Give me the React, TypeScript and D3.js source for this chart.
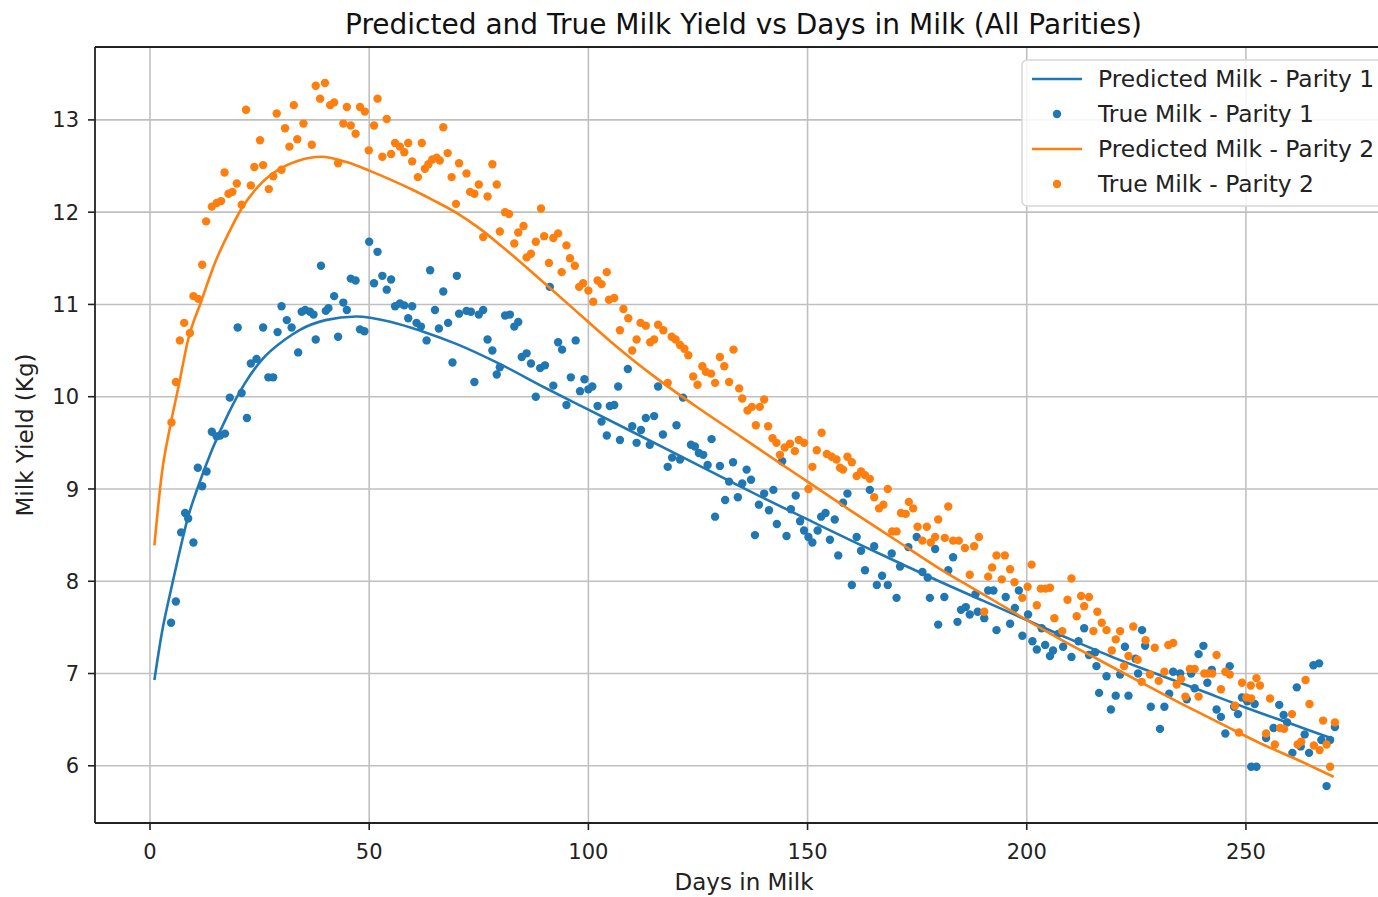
import React from "react";
import * as d3 from "d3";

const W = 1378;
const H = 897;

const titleText = "Predicted and True Milk Yield vs Days in Milk (All Parities)";
const xLabel = "Days in Milk";
const yLabel = "Milk Yield (Kg)";
const xTicks = [0, 50, 100, 150, 200, 250];
const yTicks = [6, 7, 8, 9, 10, 11, 12, 13];
const legendLabels = [
  "Predicted Milk - Parity 1",
  "True Milk - Parity 1",
  "Predicted Milk - Parity 2",
  "True Milk - Parity 2",
];

// Predicted curves [day, kg]
const predParity1: [number, number][] = [
  [1, 6.93], [2.7, 7.44], [4.6, 7.87], [6.5, 8.27], [8.7, 8.7], [11, 9.03], [14.1, 9.42],
  [17.9, 9.82], [21.7, 10.15], [25.5, 10.4], [30.8, 10.62], [34, 10.72], [40, 10.83],
  [47, 10.87], [55, 10.81], [62, 10.71], [70, 10.57], [80, 10.35], [90, 10.1], [100, 9.86],
  [110, 9.62], [120, 9.38], [130, 9.14], [140, 8.9], [150, 8.67], [160, 8.44], [170, 8.22],
  [180, 8.0], [190, 7.79], [200, 7.58], [210, 7.37], [220, 7.17], [230, 6.99], [240, 6.81],
  [250, 6.63], [260, 6.46], [270, 6.29],
];

const predParity2: [number, number][] = [
  [1, 8.39], [2.7, 9.17], [4.6, 9.68], [6.5, 10.11], [8.7, 10.62], [11.8, 11.05], [14.8, 11.45],
  [17.9, 11.77], [20.9, 12.04], [24.7, 12.28], [29.3, 12.46], [34, 12.56], [39, 12.6],
  [45, 12.54], [50, 12.45], [55, 12.35], [60, 12.24], [65, 12.12], [70, 11.99], [75, 11.83],
  [80, 11.64], [90, 11.23], [100, 10.81], [107, 10.52], [115, 10.22], [125, 9.88], [135, 9.56],
  [144, 9.27], [150, 9.08], [160, 8.76], [170, 8.45], [180, 8.14], [190, 7.86], [200, 7.58],
  [210, 7.31], [216, 7.16], [225, 6.93], [235, 6.68], [245, 6.44], [253, 6.25], [262, 6.06],
  [270, 5.88],
];

// True milk observations [day, kg]
const trueParity1: [number, number][] = [
  [4.8, 7.55], [5.9, 7.78], [7.1, 8.53], [8.0, 8.74], [8.7, 8.68], [9.9, 8.42], [10.9, 9.23],
  [11.9, 9.03], [12.9, 9.19], [14.1, 9.62], [15.2, 9.57], [16.0, 9.58], [17.1, 9.6], [18.2, 9.99],
  [20.0, 10.75], [20.9, 10.04], [22.1, 9.77], [23.0, 10.36], [24.3, 10.41], [25.8, 10.75],
  [27.0, 10.21], [28.1, 10.21], [29.1, 10.7], [30.0, 10.98], [31.2, 10.83], [32.3, 10.75],
  [33.8, 10.48], [34.6, 10.92], [35.4, 10.94], [36.5, 10.92], [37.3, 10.89], [37.8, 10.62],
  [39.0, 11.42], [40.1, 10.93], [40.7, 10.96], [42.0, 11.09], [42.9, 10.65], [44.1, 11.02],
  [44.9, 10.94], [45.8, 11.28], [46.9, 11.26], [47.9, 10.73], [48.9, 10.71], [50.0, 11.68],
  [51.1, 11.23], [51.9, 11.57], [53.0, 11.31], [54.0, 11.16], [55.0, 11.27], [55.9, 10.98],
  [57.0, 11.01], [58.0, 10.99], [58.9, 10.85], [59.8, 10.98], [60.8, 10.8], [61.8, 10.76],
  [63.1, 10.61], [63.9, 11.37], [65.0, 10.94], [65.9, 10.74], [66.9, 11.14], [68.0, 10.8],
  [69.0, 10.37], [70.0, 11.31], [70.5, 10.9], [72.2, 10.93], [73.2, 10.92], [74.0, 10.16],
  [75.0, 10.89], [76.0, 10.94], [77.0, 10.62], [78.1, 10.5], [79.1, 10.24], [79.8, 10.32],
  [81.0, 10.88], [82.1, 10.89], [83.1, 10.76], [84.0, 10.81], [84.8, 10.43], [85.9, 10.47],
  [86.9, 10.36], [88.0, 10.0], [89.0, 10.31], [90.1, 10.34], [91.2, 11.19], [92.0, 10.12],
  [93.1, 10.59], [94.0, 10.51], [95.0, 9.91], [96.0, 10.21], [97.1, 10.61], [98.1, 10.06],
  [99.1, 10.19], [100.0, 10.08], [100.9, 10.11], [102.1, 9.9], [103.0, 9.73], [104.2, 9.58],
  [104.9, 9.9], [105.9, 9.91], [106.8, 10.11], [107.2, 9.53], [109.0, 10.3], [110.0, 9.68],
  [111.0, 9.5], [112.0, 9.64], [113.1, 9.77], [114.0, 9.48], [115.0, 9.79], [115.9, 10.11],
  [117.0, 9.59], [118.1, 9.24], [119.1, 9.34], [120.1, 9.69], [120.9, 9.32], [121.6, 9.99],
  [123.4, 9.48], [124.3, 9.46], [125.2, 9.39], [126.2, 9.37], [127.2, 9.26], [128.1, 9.54],
  [128.9, 8.7], [130.0, 9.25], [131.2, 8.88], [132.1, 9.08], [133.0, 9.29], [134.1, 8.91],
  [135.1, 9.06], [136.1, 9.21], [137.1, 9.1], [138.0, 8.5], [138.9, 8.83], [140.1, 8.95],
  [141.2, 8.77], [142.2, 8.99], [143.0, 8.62], [144.2, 9.3], [145.2, 8.49], [146.2, 8.78],
  [147.3, 8.93], [148.3, 8.65], [149.2, 8.55], [150.2, 8.48], [151.1, 8.42], [152.3, 8.55],
  [153.1, 8.7], [154.1, 8.74], [155.1, 8.45], [156.2, 8.67], [157.0, 8.28], [158.1, 8.85],
  [159.1, 8.95], [160.1, 7.96], [161.2, 8.48], [162.2, 8.33], [163.1, 8.12], [164.2, 8.99],
  [165.2, 8.38], [165.8, 7.96], [167.0, 8.06], [168.3, 7.96], [169.2, 8.3], [170.3, 7.82],
  [171.1, 8.16], [173.0, 8.37], [174.9, 8.48], [176.2, 8.1], [177.4, 8.04], [177.9, 7.82],
  [179.1, 8.35], [179.8, 7.53], [181.2, 7.83], [182.1, 8.12], [183.2, 8.26], [184.2, 7.56],
  [185.0, 7.69], [186.1, 7.72], [187.0, 7.64], [188.3, 7.86], [188.8, 7.67], [190.3, 7.6],
  [191.2, 7.9], [192.4, 7.9], [193.1, 7.47], [195.2, 7.83], [196.2, 7.54], [197.3, 7.71],
  [198.2, 7.9], [199.0, 7.41], [200.3, 7.64], [201.3, 7.35], [202.3, 7.26], [203.4, 7.49],
  [204.2, 7.31], [205.3, 7.19], [206.0, 7.25], [207.2, 7.43], [208.3, 7.29], [210.2, 7.18],
  [211.8, 7.35], [213.1, 7.49], [214.2, 7.2], [215.6, 7.23], [215.9, 7.08], [216.5, 6.79],
  [218.2, 6.97], [219.2, 6.61], [220.3, 6.76], [221.3, 6.99], [222.4, 7.29], [223.2, 6.76],
  [224.8, 7.16], [225.4, 7.0], [226.3, 7.47], [227.0, 7.3], [228.3, 6.64], [230.4, 6.4],
  [231.4, 6.64], [232.5, 6.78], [233.4, 7.02], [235.0, 7.0], [236.5, 6.72], [237.5, 7.0],
  [238.3, 6.84], [239.2, 7.21], [240.3, 7.3], [241.2, 6.9], [242.2, 7.04], [243.3, 6.61],
  [244.3, 6.53], [245.3, 6.35], [246.3, 7.08], [247.3, 6.64], [248.2, 6.56], [249.1, 6.74],
  [250.3, 6.7], [251.2, 5.99], [252.0, 6.67], [252.4, 5.99], [254.6, 6.3], [256.3, 6.41],
  [257.6, 6.66], [258.6, 6.55], [259.4, 6.47], [260.6, 6.14], [261.6, 6.85], [262.5, 6.21],
  [263.4, 6.34], [264.4, 6.14], [265.4, 7.09], [266.7, 7.11], [267.2, 6.28], [268.4, 5.78],
  [269.2, 6.28], [270.3, 6.42],
];

const trueParity2: [number, number][] = [
  [4.9, 9.72], [5.9, 10.16], [6.8, 10.61], [7.8, 10.8], [9.1, 10.69], [9.9, 11.09], [11.0, 11.06],
  [11.9, 11.43], [12.8, 11.9], [14.1, 12.06], [15.2, 12.1], [16.2, 12.12], [17.0, 12.43],
  [17.9, 12.2], [18.8, 12.22], [19.8, 12.31], [20.9, 12.08], [21.9, 13.11], [23.0, 12.29],
  [23.8, 12.49], [25.1, 12.78], [25.8, 12.51], [27.1, 12.25], [28.1, 12.39], [28.9, 13.07],
  [30.0, 12.46], [30.8, 12.91], [31.8, 12.71], [32.8, 13.16], [33.6, 12.79], [35.0, 12.96],
  [36.9, 12.73], [37.8, 13.37], [38.8, 13.23], [39.9, 13.4], [41.1, 13.16], [42.0, 13.19],
  [42.9, 12.53], [44.1, 12.96], [44.9, 13.14], [45.8, 12.94], [46.9, 12.85], [47.9, 13.14],
  [49.0, 13.09], [49.9, 12.67], [51.1, 12.94], [51.9, 13.23], [53.0, 12.6], [54.0, 13.01],
  [55.0, 12.63], [55.9, 12.75], [57.0, 12.71], [58.0, 12.65], [58.9, 12.75], [59.8, 12.55],
  [61.1, 12.38], [62.0, 12.75], [62.7, 12.47], [63.5, 12.52], [64.4, 12.57], [65.4, 12.59],
  [66.1, 12.56], [66.9, 12.92], [67.9, 12.64], [68.8, 12.38], [69.8, 12.09], [70.5, 12.53],
  [72.2, 12.42], [73.0, 12.22], [74.0, 12.2], [75.0, 12.3], [76.0, 11.73], [77.0, 12.17],
  [78.1, 12.52], [79.1, 12.3], [79.8, 11.79], [81.0, 12.0], [81.9, 11.98], [83.1, 11.66],
  [84.0, 11.78], [85.2, 11.85], [85.9, 11.51], [86.9, 11.55], [88.0, 11.68], [89.2, 12.04],
  [89.9, 11.74], [91.0, 11.45], [92.0, 11.72], [93.1, 11.77], [93.9, 11.35], [95.0, 11.64],
  [95.8, 11.5], [96.9, 11.42], [97.9, 11.19], [98.8, 11.23], [100.0, 11.15], [101.1, 11.03],
  [102.1, 11.26], [103.0, 11.22], [104.2, 11.35], [104.7, 11.05], [105.9, 11.07], [107.2, 10.72],
  [108.0, 10.95], [109.1, 10.85], [110.0, 10.5], [111.0, 10.62], [111.9, 10.8], [113.1, 10.77],
  [114.1, 10.59], [115.0, 10.62], [115.9, 10.78], [117.1, 10.72], [118.1, 10.15], [119.0, 10.65],
  [119.9, 10.62], [120.9, 10.56], [121.9, 10.52], [122.8, 10.45], [123.9, 10.22], [124.9, 10.13],
  [126.0, 10.33], [126.8, 10.27], [128.0, 10.25], [128.9, 10.15], [130.0, 10.43], [131.0, 10.33],
  [132.1, 10.16], [133.1, 10.51], [134.4, 10.09], [135.1, 9.98], [136.3, 9.85], [137.3, 9.89],
  [138.2, 9.69], [139.1, 9.89], [140.1, 9.97], [141.0, 9.68], [142.0, 9.55], [142.9, 9.5],
  [143.7, 9.37], [144.8, 9.45], [146.0, 9.49], [147.1, 9.41], [148.0, 9.53], [149.2, 9.5],
  [150.2, 9.0], [151.1, 9.24], [152.1, 9.42], [153.2, 9.61], [154.4, 9.38], [155.5, 9.35],
  [156.6, 9.32], [157.4, 9.23], [158.1, 9.21], [159.1, 9.35], [160.1, 9.29], [161.2, 9.14],
  [162.2, 9.19], [163.1, 9.15], [164.2, 9.11], [165.2, 8.91], [166.3, 8.79], [167.3, 8.83],
  [168.3, 9.0], [169.3, 8.54], [170.3, 8.54], [171.3, 8.74], [172.4, 8.73], [173.1, 8.86],
  [174.1, 8.79], [175.1, 8.59], [176.2, 8.44], [177.2, 8.59], [178.1, 8.42], [179.1, 8.48],
  [179.8, 8.67], [181.3, 8.47], [182.1, 8.81], [183.2, 8.44], [184.5, 8.44], [185.9, 8.36],
  [187.0, 8.07], [188.0, 8.38], [189.1, 8.48], [190.3, 7.67], [191.2, 8.05], [192.1, 8.15],
  [193.1, 8.28], [194.3, 8.02], [195.0, 8.28], [196.2, 8.13], [197.2, 7.99], [199.0, 7.82],
  [200.2, 7.94], [201.1, 8.18], [202.3, 7.74], [203.2, 7.92], [204.3, 7.92], [205.3, 7.93],
  [206.3, 7.6], [208.1, 7.46], [209.3, 7.8], [210.2, 8.03], [211.4, 7.62], [212.4, 7.84],
  [213.1, 7.73], [214.2, 7.83], [215.2, 7.46], [216.1, 7.67], [217.1, 7.55], [218.2, 7.47],
  [219.4, 7.25], [220.3, 7.37], [221.3, 7.46], [222.2, 7.08], [223.2, 7.19], [224.3, 7.51],
  [225.3, 7.15], [226.2, 6.91], [227.1, 7.36], [228.1, 6.99], [229.2, 7.28], [230.1, 6.92],
  [231.4, 7.02], [232.3, 7.31], [233.4, 7.33], [234.2, 6.88], [235.2, 6.94], [236.2, 6.75],
  [237.2, 7.05], [238.3, 7.05], [239.2, 6.75], [240.5, 7.0], [241.4, 7.0], [242.3, 7.0],
  [243.3, 7.2], [244.3, 6.83], [245.3, 7.02], [246.3, 6.99], [247.5, 6.65], [248.4, 6.36],
  [249.1, 6.9], [250.1, 6.74], [251.1, 6.87], [251.2, 6.73], [252.4, 6.95], [253.2, 6.87],
  [254.6, 6.35], [255.5, 6.73], [256.6, 6.23], [257.8, 6.41], [258.7, 6.4], [260.5, 6.56],
  [261.8, 6.23], [262.6, 6.26], [263.6, 6.93], [264.5, 6.67], [265.5, 6.22], [266.8, 6.17],
  [267.6, 6.49], [268.4, 6.23], [269.2, 5.99], [270.3, 6.47],
];

const BLUE = "#1f77b4";
const ORANGE = "#ff7f0e";
const FONT = "DejaVu Sans, sans-serif";

export default function App() {
  const m = { left: 95, right: 1377, top: 47, bottom: 823 };
  const x = d3.scaleLinear().domain([-12.55, 279.9]).range([m.left, m.right]);
  const y = d3.scaleLinear().domain([5.38, 13.79]).range([m.bottom, m.top]);

  const line = d3
    .line<[number, number]>()
    .x((d) => x(d[0]))
    .y((d) => y(d[1]))
    .curve(d3.curveMonotoneX);

  const legX = 1022;
  const legY = 60;
  const rowH = 35;

  return (
    <svg
      width={W}
      height={H}
      viewBox={`0 0 ${W} ${H}`}
      style={{ position: "absolute", left: 0, top: 0, background: "#fff" }}
      fontFamily={FONT}
    >
      <rect x={0} y={0} width={W} height={H} fill="#fff" />
      <defs>
        <clipPath id="plotclip">
          <rect x={m.left} y={m.top} width={W - m.left} height={m.bottom - m.top} />
        </clipPath>
      </defs>

      {/* grid */}
      <g stroke="#c0c0c0" strokeWidth={1.6}>
        {xTicks.map((t) => (
          <line key={"gx" + t} x1={x(t)} x2={x(t)} y1={m.top} y2={m.bottom} />
        ))}
        {yTicks.map((t) => (
          <line key={"gy" + t} x1={m.left} x2={W} y1={y(t)} y2={y(t)} />
        ))}
      </g>

      <g clipPath="url(#plotclip)">
        <path d={line(predParity1) || ""} fill="none" stroke={BLUE} strokeWidth={2.6} />
        {trueParity1.map((d, i) => (
          <circle key={"b" + i} cx={x(d[0])} cy={y(d[1])} r={4.2} fill={BLUE} />
        ))}
        <path d={line(predParity2) || ""} fill="none" stroke={ORANGE} strokeWidth={2.6} />
        {trueParity2.map((d, i) => (
          <circle key={"o" + i} cx={x(d[0])} cy={y(d[1])} r={4.2} fill={ORANGE} />
        ))}
      </g>

      {/* spines (right spine falls just outside the picture) */}
      <g stroke="#222" strokeWidth={1.8} fill="none">
        <line x1={m.left} x2={m.left} y1={m.top} y2={m.bottom} />
        <line x1={m.left} x2={W} y1={m.bottom} y2={m.bottom} />
        <line x1={m.left} x2={W} y1={m.top} y2={m.top} />
      </g>

      {/* x ticks */}
      {xTicks.map((t) => (
        <g key={"xt" + t}>
          <line x1={x(t)} x2={x(t)} y1={m.bottom} y2={m.bottom + 7} stroke="#222" strokeWidth={1.6} />
          <text x={x(t)} y={m.bottom + 36} textAnchor="middle" fontSize={21} fill="#222">
            {t}
          </text>
        </g>
      ))}
      {/* y ticks */}
      {yTicks.map((t) => (
        <g key={"yt" + t}>
          <line x1={m.left - 7} x2={m.left} y1={y(t)} y2={y(t)} stroke="#222" strokeWidth={1.6} />
          <text x={m.left - 16} y={y(t)} dy="0.36em" textAnchor="end" fontSize={21} fill="#222">
            {t}
          </text>
        </g>
      ))}

      <text x={744} y={890} textAnchor="middle" fontSize={23} fill="#222">
        {xLabel}
      </text>
      <text
        transform={`translate(33, ${(m.top + m.bottom) / 2}) rotate(-90)`}
        textAnchor="middle"
        fontSize={23}
        fill="#222"
      >
        {yLabel}
      </text>
      <text x={743.5} y={34} textAnchor="middle" fontSize={28} fill="#111">
        {titleText}
      </text>

      {/* legend */}
      <g>
        <rect
          x={legX}
          y={legY}
          width={W - legX + 6}
          height={4 * rowH + 6}
          rx={5}
          fill="#fff"
          fillOpacity={0.85}
          stroke="#d6d6d6"
          strokeWidth={1.5}
        />
        {legendLabels.map((lab, i) => {
          const cy = legY + 19 + i * rowH;
          const col = i < 2 ? BLUE : ORANGE;
          const isLine = i % 2 === 0;
          return (
            <g key={"leg" + i}>
              {isLine ? (
                <line x1={legX + 10} x2={legX + 60} y1={cy} y2={cy} stroke={col} strokeWidth={2.6} />
              ) : (
                <circle cx={legX + 35} cy={cy} r={4.2} fill={col} />
              )}
              <text x={legX + 76} y={cy} dy="0.36em" fontSize={23.4} fill="#222">
                {lab}
              </text>
            </g>
          );
        })}
      </g>
    </svg>
  );
}
